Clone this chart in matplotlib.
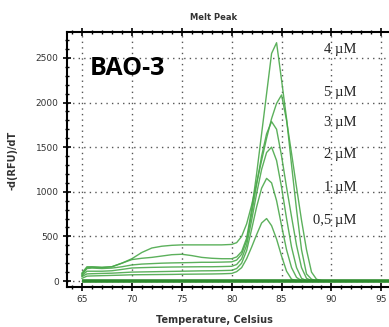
import matplotlib
matplotlib.use('Agg')
import matplotlib.pyplot as plt
from matplotlib.ticker import MultipleLocator

# melt curve data (temperature in Celsius)
temps = [65, 65.5, 66, 67, 68, 69, 70, 71, 72, 73, 74, 75, 76, 77, 78, 79, 80,
         80.5, 81, 81.5, 82, 82.5, 83, 83.5, 84, 84.5, 85, 85.5, 86, 86.5,
         87, 87.5, 88, 88.5, 89, 90, 95]

conc_5uM = [80, 150, 155, 150, 160, 200, 250, 320, 370, 390, 400, 405, 405, 405, 405, 405, 410,
            430, 500, 640, 850, 1100, 1350, 1600, 1820, 1990, 2085, 1800, 1430, 1050,
            680, 350, 100, 20, 5, 0, 0]
conc_4uM = [90, 160, 160, 155, 160, 200, 240, 255, 265, 280, 295, 300, 285, 265, 255, 250, 250,
            270, 330, 480, 800, 1200, 1650, 2100, 2550, 2670, 2250, 1820, 1300, 800,
            350, 80, 20, 5, 0, 0, 0]
conc_3uM = [70, 140, 145, 140, 145, 160, 180, 190, 195, 200, 203, 205, 207, 210, 210, 212, 215,
            235, 300, 450, 750, 1080, 1400, 1650, 1786, 1700, 1400, 1050, 720, 400,
            150, 30, 5, 0, 0, 0, 0]
conc_2uM = [60, 110, 110, 110, 115, 130, 146, 150, 153, 155, 157, 158, 159, 160, 160, 162, 165,
            185, 250, 400, 680, 980, 1250, 1440, 1500, 1350, 1050, 700, 380, 150,
            30, 5, 0, 0, 0, 0, 0]
conc_1uM = [50, 80, 82, 85, 88, 94, 100, 102, 104, 106, 108, 110, 112, 114, 115, 117, 120,
            140, 200, 340, 580, 830, 1040, 1150, 1100, 900, 620, 350, 150, 40,
            5, 0, 0, 0, 0, 0, 0]
conc_05uM = [30, 55, 57, 60, 63, 66, 70, 71, 72, 73, 74, 76, 77, 78, 79, 81, 85,
             105, 150, 250, 380, 520, 650, 700, 620, 470, 280, 110, 20, 5,
             0, 0, 0, 0, 0, 0, 0]
series = [conc_5uM, conc_4uM, conc_3uM, conc_2uM, conc_1uM, conc_05uM]

# no-template controls (flat)
ntc_temps = [65, 70, 75, 80, 85, 90, 95, 97]
ntc_vals = [0, 0, 0, 0, 0, 0, 0, 0]

labels = ['4 µM', '5 µM', '3 µM', '2 µM', '1 µM', '0,5 µM']
label_y = [2590, 2110, 1780, 1420, 1050, 680]

fig = plt.figure(figsize=(3.89, 3.27), dpi=100)
ax = fig.add_axes([0.1722, 0.1223, 0.8595, 0.7798])

green = '#4aa84a'
for vals in series:
    ax.plot(temps, vals, color=green, linewidth=1.0, alpha=0.9)
ax.plot(ntc_temps, ntc_vals, color='#2e8b2e', linewidth=2.6, solid_capstyle='butt')

ax.set_xlim(63.5, 97)
ax.set_ylim(-67, 2790)
ax.xaxis.set_major_locator(MultipleLocator(5))
ax.xaxis.set_minor_locator(MultipleLocator(1))
ax.yaxis.set_major_locator(MultipleLocator(500))
ax.yaxis.set_minor_locator(MultipleLocator(100))
ax.tick_params(which='major', direction='inout', length=6, width=1.2,
               labelsize=6.5, labelcolor='#333333', top=True, pad=3)
ax.tick_params(which='minor', direction='inout', length=3.5, width=1.0, top=True)
ax.tick_params(axis='x', which='both', top=True, direction='inout')
for s in ax.spines.values():
    s.set_linewidth(1.5)
ax.grid(True, which='major', color='#555555', linestyle=(0, (1, 3)), linewidth=1.0)

for t, y in zip(labels, label_y):
    ax.text(92.5, y, t, family='Liberation Serif', fontsize=10.5,
            ha='right', va='center', color='#222222')

ax.text(65.8, 2385, 'BAO-3', family='Open Sans', fontweight='bold', fontsize=18,
        ha='left', va='center', color='black')

fig.text(0.55, 0.945, 'Melt Peak', fontsize=6, fontweight='bold', color='#333333',
         ha='center', va='center')
fig.text(0.55, 0.02, 'Temperature, Celsius', fontsize=7, fontweight='bold',
         color='#333333', ha='center', va='center')
fig.text(0.032, 0.51, '-d(RFU)/dT', fontsize=7, fontweight='bold', color='#333333',
         ha='center', va='center', rotation=90)

fig.savefig('out.png', dpi=100)
